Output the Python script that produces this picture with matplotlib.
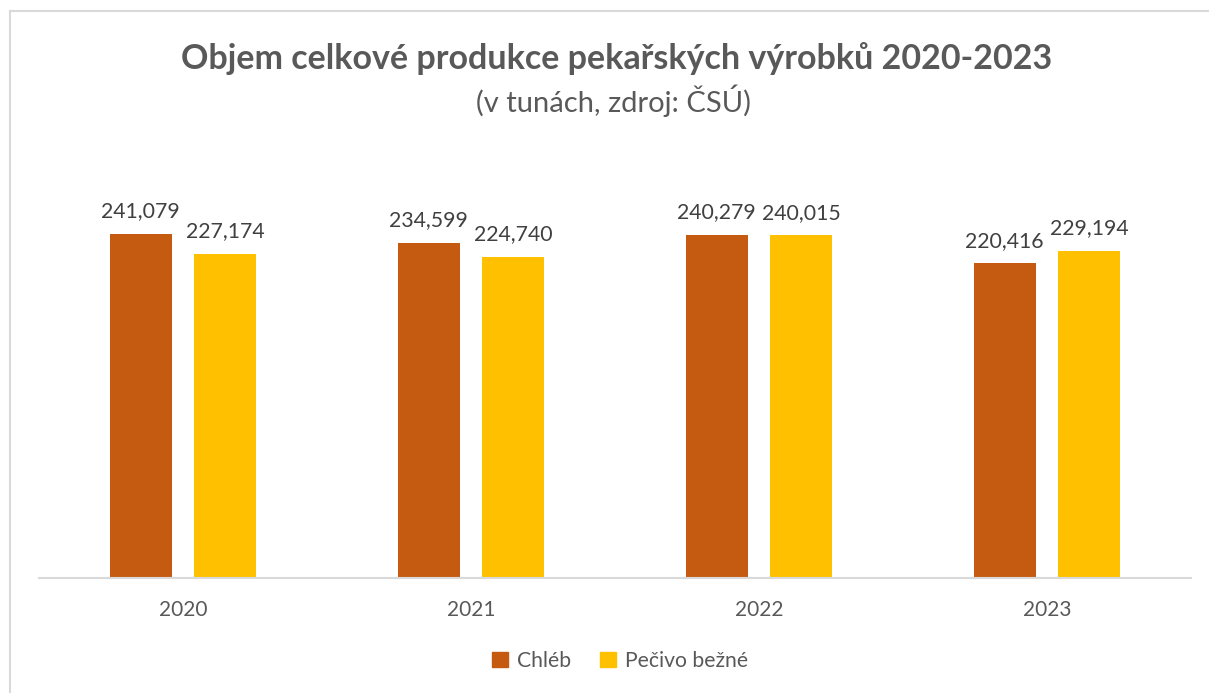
import matplotlib.pyplot as plt
from matplotlib.lines import Line2D
from matplotlib.patches import Patch
import numpy as np

years = ["2020", "2021", "2022", "2023"]
chleb = [241079, 234599, 240279, 220416]
pecivo = [227174, 224740, 240015, 229194]
series_names = ["Chléb", "Pečivo bežné"]

W, H = 1209, 693
plt.rcParams['font.family'] = ['Lato', 'DejaVu Sans']

fig = plt.figure(figsize=(W / 100, H / 100), dpi=100)
ax = fig.add_axes([39 / W, 115 / H, 1152 / W, 357 / H])

x = np.arange(len(years))
bw = 0.215
off = 0.147
b1 = ax.bar(x - off, chleb, bw, color="#C55A11")
b2 = ax.bar(x + off, pecivo, bw, color="#FFC000")

for bars in (b1, b2):
    for rect in bars:
        v = rect.get_height()
        ax.annotate(f"{v:,.0f}", (rect.get_x() + rect.get_width() / 2, v),
                    xytext=(0, 9), textcoords="offset points",
                    ha="center", va="bottom", fontsize=15.3, color="#404040")

ax.set_xlim(-0.5, len(years) - 0.5)
ax.set_ylim(0, 250000)
ax.set_xticks(x)
ax.set_xticklabels(years, fontsize=15, color="#595959")
ax.tick_params(axis="x", length=0, pad=16)
ax.set_yticks([])
for s in ("top", "right", "left"):
    ax.spines[s].set_visible(False)
ax.spines["bottom"].set_color("#D9D9D9")
ax.spines["bottom"].set_linewidth(1.5)

fig.text(617 / W, 1 - 59 / H, "Objem celkové produkce pekařských výrobků 2020-2023",
         ha="center", va="center", fontsize=24.5, fontweight="bold", color="#595959")
fig.text(613 / W, 1 - 101 / H, "(v tunách, zdroj: ČSÚ)",
         ha="center", va="center", fontsize=21, color="#595959")

handles = [Patch(color="#C55A11"), Patch(color="#FFC000")]
fig.legend(handles, series_names, loc="center", bbox_to_anchor=(620 / W, 1 - 661 / H),
           ncol=2, frameon=False, fontsize=15.2, labelcolor="#595959",
           handlelength=0.75, handleheight=0.75, handletextpad=0.4, columnspacing=1.4)

# chart frame (top and left edges visible)
fig.add_artist(Line2D([10 / W, 1], [1 - 11 / H, 1 - 11 / H], color="#D9D9D9", lw=1.5))
fig.add_artist(Line2D([10 / W, 10 / W], [0, 1 - 11 / H], color="#D9D9D9", lw=1.5))

fig.savefig("out.png", dpi=100)
